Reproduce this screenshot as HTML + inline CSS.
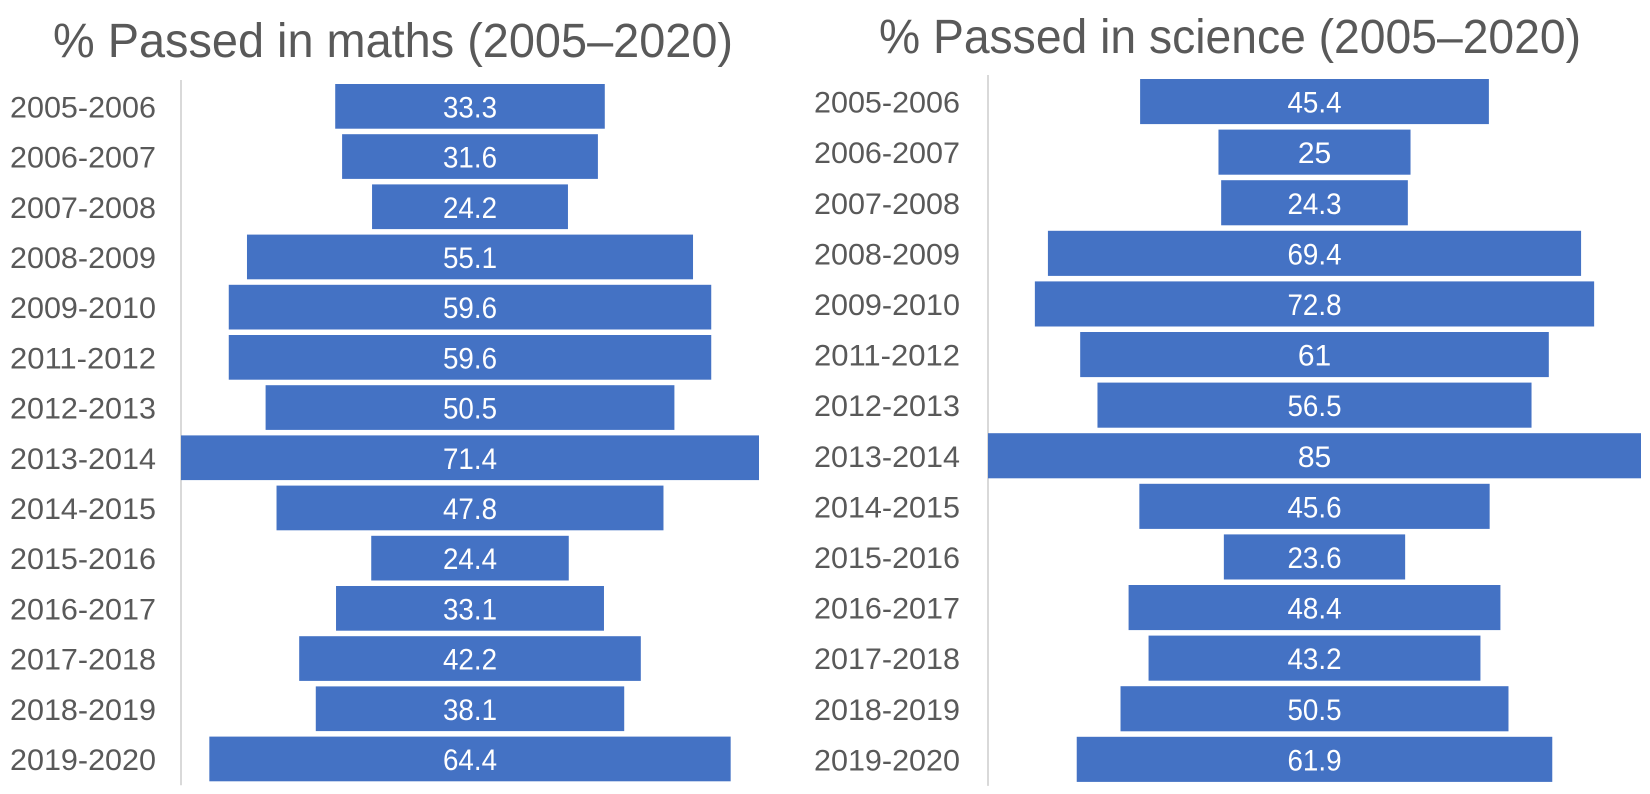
<!DOCTYPE html>
<html><head><meta charset="utf-8"><style>
html,body{margin:0;padding:0;background:#fff;}
svg{display:block;font-family:"Liberation Sans",sans-serif;}
</style></head><body>
<svg id="c" width="1650" height="794" viewBox="0 0 1650 794">
<text x="393" y="57" font-size="48" fill="#595959" text-anchor="middle" textLength="680" lengthAdjust="spacingAndGlyphs">% Passed in maths (2005–2020)</text>
<text x="1230" y="53" font-size="48" fill="#595959" text-anchor="middle" textLength="702" lengthAdjust="spacingAndGlyphs">% Passed in science (2005–2020)</text>
<g id="g1"></g>
<g id="g2"></g>
</svg>
<script>
const categories = ["2005-2006","2006-2007","2007-2008","2008-2009","2009-2010","2011-2012","2012-2013","2013-2014","2014-2015","2015-2016","2016-2017","2017-2018","2018-2019","2019-2020"];
const mathsValues = [33.3,31.6,24.2,55.1,59.6,59.6,50.5,71.4,47.8,24.4,33.1,42.2,38.1,64.4];
const scienceValues = [45.4,25,24.3,69.4,72.8,61,56.5,85,45.6,23.6,48.4,43.2,50.5,61.9];
const NS="http://www.w3.org/2000/svg";
function draw(gid, vals, axisX, maxV, plotW, top, pitch, labelRight, prefix){
  const g=document.getElementById(gid);
  const center=axisX+plotW/2;
  const xs=v=>v*plotW/maxV;
  const yBand=i=>top+i*pitch;
  const barH=pitch-5.5;
  const ax=document.createElementNS(NS,'line');
  ax.setAttribute('x1',axisX);ax.setAttribute('x2',axisX);
  ax.setAttribute('y1',top-4);ax.setAttribute('y2',yBand(categories.length-1)+barH+4);
  ax.setAttribute('stroke','#d9d9d9');ax.setAttribute('stroke-width','2');
  
  
  g.appendChild(ax);
  categories.forEach((c,i)=>{
    const w=xs(vals[i]), y=yBand(i);
    const r=document.createElementNS(NS,'rect');
    r.setAttribute('x',center-w/2);r.setAttribute('y',y);
    r.setAttribute('width',w);r.setAttribute('height',barH);
    r.setAttribute('fill','#4472C4');
    
    
    g.appendChild(r);
    const t=document.createElementNS(NS,'text');
    t.setAttribute('x',center);t.setAttribute('y',y+barH/2+11);
    t.setAttribute('text-anchor','middle');t.setAttribute('font-size','30');t.setAttribute('fill','#fff');
    const s=String(vals[i]);
    if(s.length>=4){
      t.setAttribute('textLength',String(s.length*13.5));
      t.setAttribute('lengthAdjust','spacingAndGlyphs');
    }
    t.textContent=s;
    
    
    g.appendChild(t);
    const l=document.createElementNS(NS,'text');
    l.setAttribute('x',labelRight);l.setAttribute('y',y+barH/2+11);
    l.setAttribute('text-anchor','end');l.setAttribute('font-size','30');l.setAttribute('fill','#595959');
    l.setAttribute('textLength','146');
    l.setAttribute('lengthAdjust','spacingAndGlyphs');
    l.textContent=c;
    
    
    g.appendChild(l);
  });
}
draw('g1', mathsValues, 181, 71.4, 578, 84, 50.2, 156, 'maths');
draw('g2', scienceValues, 988, 85, 653, 79, 50.6, 960, 'science');
</script>
</body></html>
